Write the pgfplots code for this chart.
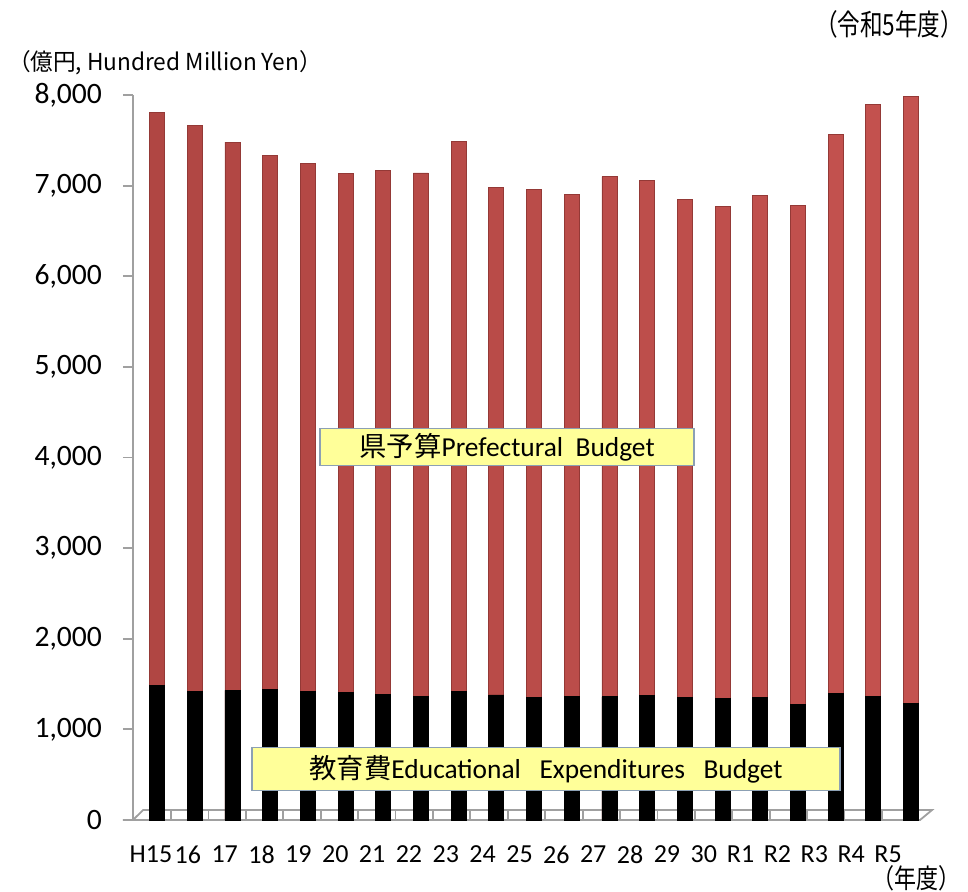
\documentclass[border=0pt]{standalone}
\usepackage{fontspec}
\setmainfont{Carlito}
\newfontfamily\jp{Noto Sans CJK JP}
\usepackage{pgfplots}
\usepackage{pgfplotstable}
\pgfplotsset{compat=1.18}
\definecolor{axisgray}{HTML}{A0A0A0}
\definecolor{redL}{HTML}{B04643}
\definecolor{redM}{HTML}{D9625F}
\definecolor{redR}{HTML}{C4524F}
\definecolor{redE}{HTML}{943936}
\definecolor{boxfill}{HTML}{FFFF99}
\definecolor{boxedge}{HTML}{8CA0B4}

\pgfplotstableread{
idx lab total edu
0  H15 7810 1480
1  16  7660 1420
2  17  7480 1430
3  18  7330 1440
4  19  7240 1420
5  20  7130 1410
6  21  7170 1390
7  22  7140 1360
8  23  7490 1420
9  24  6980 1380
10 25  6960 1350
11 26  6900 1360
12 27  7100 1360
13 28  7060 1370
14 29  6850 1350
15 30  6770 1340
16 R1  6890 1350
17 R2  6780 1280
18 R3  7560 1400
19 R4  7900 1360
20 R5  7980 1290
}\data

\begin{document}
\begin{tikzpicture}
\useasboundingbox (-66.5pt,-35.5pt) rectangle (417.5pt,410pt);
\begin{axis}[
  at={(0,0)}, anchor=south west,
  scale only axis, width=399.5pt, height=362.5pt,
  xmin=-0.6366, xmax=20.557, ymin=0, ymax=8000,
  axis lines*=left,
  x axis line style={draw=none},
  y axis line style={draw=axisgray, line width=0.9pt},
  ytick={0,1000,...,8000},
  ytick style={draw=axisgray, line width=0.9pt},
  tick align=outside, major tick length=5pt,
  xtick={-0.159,0.8185,1.796,2.7735,3.751,4.7285,5.706,6.6835,7.661,8.6385,9.616,10.5935,11.571,12.5485,13.526,14.5035,15.481,16.4585,17.436,18.4135,19.391},
  xticklabels from table={\data}{lab},
  xtick style={draw=none},
  xticklabel style={font=\fontsize{13}{15}\selectfont, yshift=-4.5pt},
  yticklabel style={font=\fontsize{14.8}{17}\selectfont, xshift=-7pt},
  scaled y ticks=false,
  clip=false,
  ybar, bar width=7.5pt,
  /pgf/number format/1000 sep={,},
  /pgf/number format/assume math mode=true,
]
% floor
\draw[axisgray, line width=0.9pt] (axis cs:-0.902,0) -- (axis cs:20.239,0) -- (axis cs:20.557,110) -- (axis cs:-0.371,110) -- (axis cs:-0.637,0);
\pgfplotsinvokeforeach{0.371,1.364,2.356,3.349,4.341,5.334,6.327,7.319,8.312,9.304,10.297,11.29,12.282,13.275,14.267,15.26,16.253,17.245,18.238,19.23}{
  \draw[axisgray, line width=0.9pt] (axis cs:#1,0) -- (axis cs:#1,110);
}
\addplot[bar shift=0pt, draw=redE, line width=0.4pt, left color=redL, middle color=redM, right color=redR] table[x=idx,y=total]{\data};
\addplot[bar shift=0pt, draw=black, fill=black] table[x=idx,y=edu]{\data};

\node[draw=boxedge, fill=boxfill, line width=0.6pt, inner sep=0pt, minimum width=187pt, minimum height=18.5pt, font=\fontsize{13.7}{16}\selectfont]
  at (axis cs:9.284,4114) {{\jp 県予算}Prefectural\ \ Budget};
\node[draw=boxedge, fill=boxfill, line width=0.6pt, inner sep=0pt, minimum width=294pt, minimum height=21.5pt, font=\fontsize{13.7}{16}\selectfont]
  at (axis cs:10.318,563) {{\jp 教育費}Educational\ \ \ Expenditures\ \ \ Budget};
\end{axis}
\node at (16pt,378.5pt) {\resizebox{157pt}{10pt}{\jp （億円, Hundred Million Yen）}};
\node at (378pt,398pt) {\resizebox{74pt}{12.5pt}{\jp （令和5年度）}};
\node[inner sep=0pt] at (391.5pt,-29pt) {\resizebox{44pt}{11.5pt}{\jp （年度）}};
\end{tikzpicture}
\end{document}
